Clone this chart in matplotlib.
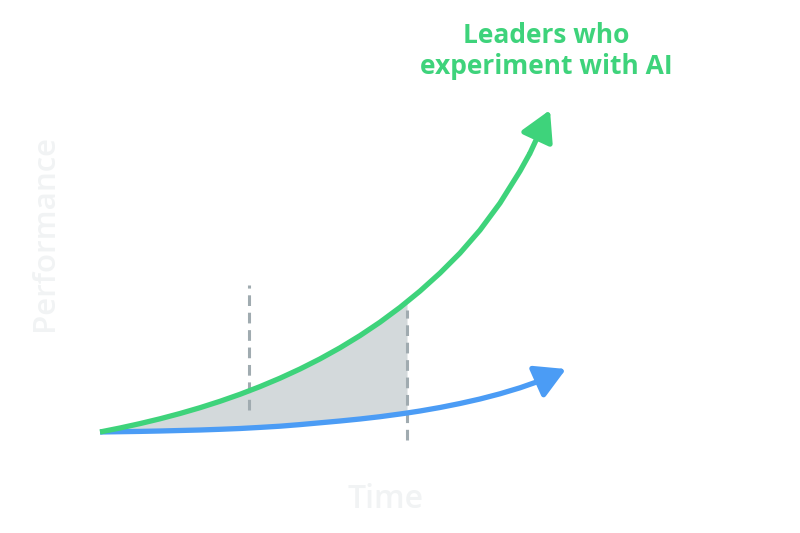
import matplotlib.pyplot as plt

# Kurva (satuan: piksel kanvas, y ke atas)
time_x = [100, 120, 140, 160, 180, 200, 220, 240, 260, 280, 300, 320, 340, 360, 380, 400, 407,
          420, 440, 460, 480, 500, 520]
leaders_y = [101.0, 105.0, 109.4, 114.2, 119.5, 125.3, 131.7, 138.7, 146.4, 154.8, 164.0, 174.1,
             185.2, 197.4, 210.8, 225.6, 231.3, 241.9, 259.9, 279.9, 302.9, 329.9, 361.9]
others_y = [101.0, 101.3, 101.6, 102.0, 102.5, 103.0, 103.7, 104.5, 105.6, 106.8, 108.4, 110.2,
            112.0, 114.0, 116.3, 119.0, 120.0, 122.0, 125.5, 129.5, 134.0, 139.2, 145.2]

# Ujung panah: titik awal segmen panah dan titik ujungnya
leaders_arrow = [(530, 379.9), (550, 423)]
others_arrow = [(538, 151.5), (566, 164)]

# Area terarsir sampai garis putus-putus kedua
shade_end = 407

# Garis putus-putus vertikal: (x, y_bawah, y_atas)
markers = [(249, 123, 248), (407, 93, 223)]

GREEN = "#3ed37b"
BLUE = "#4b9cf5"
FILL = "#d3d9db"
DASH = "#a0abb0"
LABEL = "#f1f3f4"

plt.rcParams["font.family"] = ["Open Sans", "DejaVu Sans"]

fig = plt.figure(figsize=(8, 5.33), dpi=100)
ax = fig.add_axes([0, 0, 1, 1])
ax.set_xlim(0, 800)
ax.set_ylim(0, 533)
ax.axis("off")

n = time_x.index(shade_end) + 1
ax.fill_between(time_x[:n], others_y[:n], leaders_y[:n], color=FILL, lw=0, zorder=1)

for x, y0, y1 in markers:
    ax.plot([x, x], [y0, y1], color=DASH, lw=2.2, dashes=(3.5, 2.2), zorder=2)

arrow_style = "-|>,head_length=0.8,head_width=0.45"


def draw_curve(ys, arrow, color, z):
    xs = list(time_x) + [arrow[0][0]]
    yv = list(ys) + [arrow[0][1]]
    ax.plot(xs, yv, color=color, lw=3.8, solid_joinstyle="round",
            solid_capstyle="butt", zorder=z)
    ax.annotate("", xy=arrow[1], xytext=arrow[0],
                arrowprops=dict(arrowstyle=arrow_style, color=color, lw=3.8,
                                mutation_scale=23, shrinkA=0, shrinkB=0,
                                joinstyle="round"), zorder=z)


draw_curve(others_y, others_arrow, BLUE, 3)
draw_curve(leaders_y, leaders_arrow, GREEN, 4)

ax.text(546, 482, "Leaders who\nexperiment with AI", color=GREEN, fontsize=19,
        fontweight="bold", ha="center", va="center", linespacing=1.15)
ax.text(45, 300, "Performance", color=LABEL, fontsize=22.5, fontweight="semibold",
        rotation=90, ha="center", va="center")
ax.text(386, 33, "Time", color=LABEL, fontsize=23, fontweight="semibold",
        ha="center", va="center")

fig.savefig("out.png", dpi=100)
